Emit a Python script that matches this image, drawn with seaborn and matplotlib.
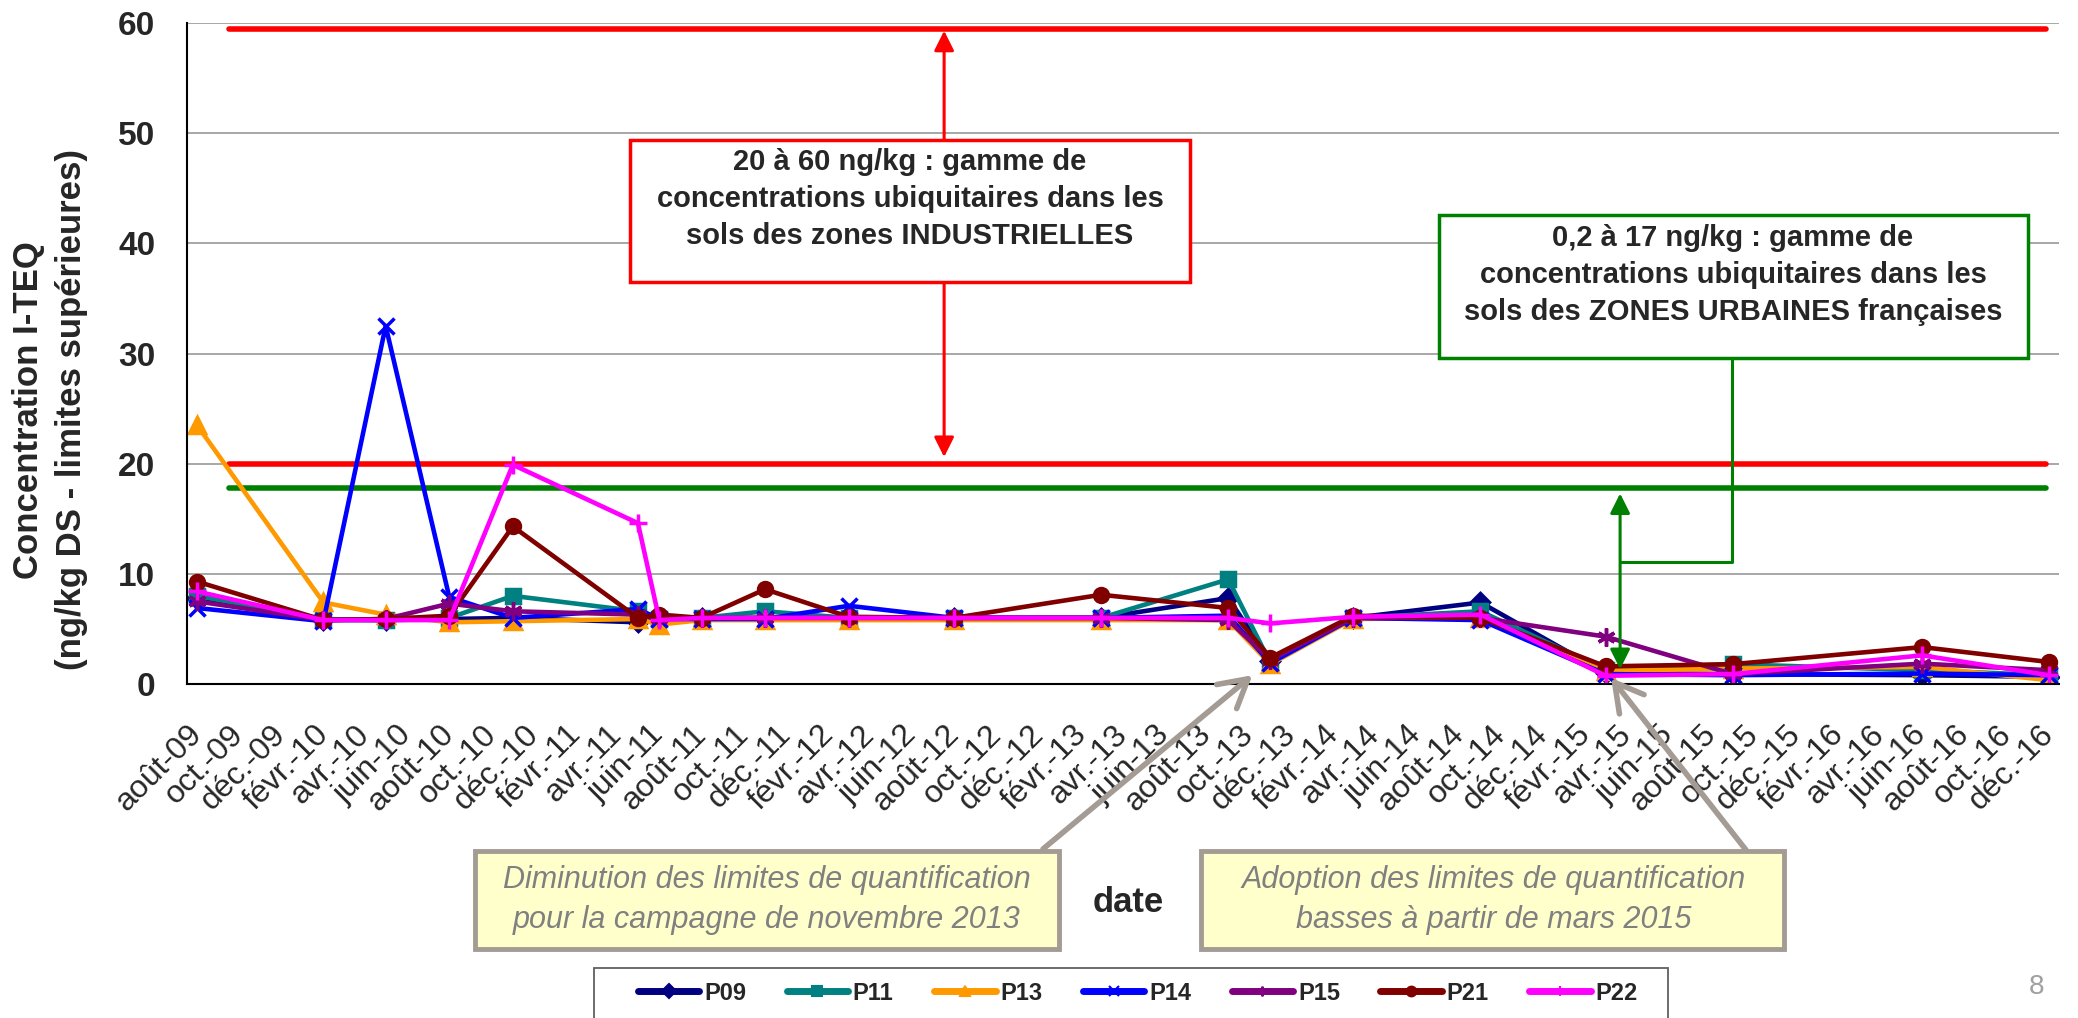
import pandas as pd
import numpy as np
import matplotlib
matplotlib.use("Agg")
import matplotlib.pyplot as plt
import matplotlib.dates as mdates
from matplotlib.patches import Rectangle
from matplotlib.lines import Line2D
import seaborn as sns

# Sampling campaigns and I-TEQ concentrations (ng/kg DS, upper bound)
dates = ["2009-08-16", "2010-02-15", "2010-05-16", "2010-08-16", "2010-11-16",
         "2011-05-16", "2011-06-16", "2011-08-16", "2011-11-16", "2012-03-16",
         "2012-08-15", "2013-03-16", "2013-09-16", "2013-11-16", "2014-03-16",
         "2014-09-16", "2015-03-16", "2015-09-16", "2016-06-16", "2016-12-16"]

p09 = [7.8, 5.8, 5.8, 5.9, 6.0, 5.6, 5.9, 6.0, 6.0, 6.0, 6.0, 6.0, 7.8, 2.1, 6.0, 7.4, 1.0, 0.9, 0.8, 0.65]
p11 = [8.0, 5.9, 5.8, 6.0, 8.0, 6.6, 5.9, 6.0, 6.6, 6.0, 6.0, 6.0, 9.5, 1.9, 6.0, 6.6, 1.3, 1.8, 1.25, 0.8]
p13 = [23.5, 7.4, 6.3, 5.6, 5.7, 5.9, 5.4, 5.8, 5.8, 5.8, 5.8, 5.8, 5.8, 1.8, 5.9, 6.0, 1.2, 1.4, 1.55, 0.35]
p14 = [6.9, 5.7, 32.5, 7.9, 6.0, 6.8, 5.9, 5.9, 5.9, 7.1, 6.0, 6.0, 6.2, 1.9, 6.0, 5.8, 0.9, 0.8, 0.95, 0.8]
p15 = [7.5, 5.8, 5.9, 7.3, 6.6, 6.3, 6.0, 6.0, 6.0, 6.0, 6.0, 6.0, 5.8, 2.2, 6.0, 6.0, 4.3, 0.9, 1.85, 1.25]
p21 = [9.3, 5.8, 5.9, 6.2, 14.3, 6.0, 6.3, 6.0, 8.6, 6.1, 6.0, 8.1, 6.9, 2.4, 6.2, 6.0, 1.6, 1.8, 3.35, 2.0]
p22 = [8.4, 5.8, 5.8, 5.8, 19.9, 14.6, 5.8, 6.0, 6.0, 6.0, 6.0, 6.0, 6.0, 5.5, 6.1, 6.3, 0.75, 0.9, 2.6, 0.8]

stations = ["P09", "P11", "P13", "P14", "P15", "P21", "P22"]
series = [p09, p11, p13, p14, p15, p21, p22]
colors = ["#000080", "#008080", "#FF9900", "#0000FF", "#800080", "#800000", "#FF00FF"]
markers = ["D", "s", "^", "x", (6, 2, 0), "o", "+"]
msizes = [9, 10, 11, 11, 13, 10, 13]

# reference ranges
indus_low, indus_high = 20, 59.5
urban_high = 17.8
ref_start, ref_end = "2009-10-01", "2016-12-12"

month_fr = {2: "févr.", 4: "avr.", 6: "juin", 8: "août", 10: "oct.", 12: "déc."}
tick_dates = pd.date_range("2009-08-01", "2016-12-01", freq="2MS")
tick_labels = [f"{month_fr[d.month]}-{d:%y}" for d in tick_dates]

sns.set_style("white")
plt.rcParams["font.family"] = ["Liberation Sans", "DejaVu Sans"]

W, H = 2078, 1018
fig = plt.figure(figsize=(W / 100, H / 100), dpi=100)
ax = fig.add_axes([186.6 / W, 1 - 684 / H, (2059 - 186.6) / W, (684 - 23) / H])

x = pd.to_datetime(dates)
for name, vals, c, m, ms in zip(stations, series, colors, markers, msizes):
    sns.lineplot(x=x, y=vals, color=c, marker=m, markersize=ms, linewidth=3.3,
                 markeredgecolor=c, markeredgewidth=2.5, ax=ax, label=name, legend=False)

d0, d1 = pd.Timestamp(ref_start), pd.Timestamp(ref_end)
ax.plot([d0, d1], [indus_high, indus_high], color="#FF0000", lw=4, zorder=1)
ax.plot([d0, d1], [indus_low, indus_low], color="#FF0000", lw=4, zorder=1)
ax.plot([d0, d1], [urban_high, urban_high], color="#008000", lw=4, zorder=1)

# double arrows for the ranges
d_red = pd.Timestamp("2012-08-01")
ax.annotate("", xy=(d_red, 59.3), xytext=(d_red, 20.6),
            arrowprops=dict(arrowstyle="<|-|>", color="#FF0000", lw=2.2,
                            mutation_scale=30, shrinkA=0, shrinkB=0))
d_green = pd.Timestamp("2015-04-06")
ax.annotate("", xy=(d_green, 17.3), xytext=(d_green, 1.35),
            arrowprops=dict(arrowstyle="<|-|>", color="#008000", lw=2.2,
                            mutation_scale=30, shrinkA=0, shrinkB=0))
d_conn = pd.Timestamp("2015-09-15")
ax.plot([d_green, d_conn, d_conn], [11.1, 11.1, 31], color="#008000", lw=2.2)

ax.set_xlim(pd.Timestamp("2009-08-01"), pd.Timestamp("2016-12-31"))
ax.set_ylim(0, 60)
ax.set_yticks(range(0, 61, 10))
ax.set_xticks(mdates.date2num(tick_dates))
ax.set_xticklabels(tick_labels, rotation=45, ha="right", va="top",
                   rotation_mode="anchor", fontsize=23)
for lbl in ax.get_yticklabels():
    lbl.set_fontweight("bold")
    lbl.set_fontsize(24)
ax.tick_params(axis="both", direction="out", length=7.5, width=1.2, color="#808080")
ax.tick_params(axis="x", pad=18)
ax.tick_params(axis="y", pad=15)
ax.yaxis.grid(True, color="#A0A0A0", lw=1.3)
ax.xaxis.grid(False)
ax.set_axisbelow(True)
for s in ["top", "right"]:
    ax.spines[s].set_visible(False)
for s in ["left", "bottom"]:
    ax.spines[s].set_color("black")
    ax.spines[s].set_linewidth(1.5)
ax.set_xlabel("")
ax.set_ylabel("")

fig.text(50 / W, 1 - 410 / H, "Concentration I-TEQ\n(ng/kg DS - limites supérieures)",
         rotation=90, ha="center", va="center", fontsize=25, fontweight="bold",
         linespacing=1.35)
fig.text(1128 / W, 1 - 902 / H, "date", ha="center", va="center",
         fontsize=25, fontweight="bold")


def fig_box(x0, y0, x1, y1, face, edge, lw):
    ax.add_patch(Rectangle((x0 / W, 1 - y1 / H), (x1 - x0) / W, (y1 - y0) / H,
                           transform=fig.transFigure, facecolor=face, edgecolor=edge,
                           lw=lw, clip_on=False, zorder=20))


fig_box(630, 140, 1190, 282, "white", "#FF0000", 2.5)
fig.text(910 / W, 1 - 199 / H,
         "20 à 60 ng/kg : gamme de\nconcentrations ubiquitaires dans les\nsols des zones INDUSTRIELLES",
         ha="center", va="center", fontsize=21, fontweight="bold", linespacing=1.41, zorder=25)
fig_box(1439, 215, 2028, 358, "white", "#008000", 2.5)
fig.text(1733 / W, 1 - 275 / H,
         "0,2 à 17 ng/kg : gamme de\nconcentrations ubiquitaires dans les\nsols des ZONES URBAINES françaises",
         ha="center", va="center", fontsize=21, fontweight="bold", linespacing=1.41, zorder=25)

fig_box(475, 851, 1059, 949, "#FFFFCC", "#A39B94", 3.5)
fig.text(767 / W, 1 - 900 / H,
         "Diminution des limites de quantification\npour la campagne de novembre 2013",
         ha="center", va="center", fontsize=22, style="italic", color="#808080",
         linespacing=1.45, zorder=25)
fig_box(1201, 851, 1784, 949, "#FFFFCC", "#A39B94", 3.5)
fig.text(1494 / W, 1 - 900 / H,
         "Adoption des limites de quantification\nbasses à partir de mars 2015",
         ha="center", va="center", fontsize=22, style="italic", color="#808080",
         linespacing=1.45, zorder=25)

gray_arrow = dict(arrowstyle="->,head_length=0.8,head_width=0.45", color="#A39B94",
                  lw=4, mutation_scale=25, shrinkA=0, shrinkB=0)
ax.annotate("", xy=(pd.Timestamp("2013-10-21"), 0.8), xycoords="data",
            xytext=(1043 / W, 1 - 849 / H), textcoords="figure fraction",
            arrowprops=gray_arrow, annotation_clip=False)
ax.annotate("", xy=(pd.Timestamp("2015-03-24"), 0.55), xycoords="data",
            xytext=(1746 / W, 1 - 850 / H), textcoords="figure fraction",
            arrowprops=gray_arrow, annotation_clip=False)

# legend
handles = [Line2D([], [], color=c, marker=m, markersize=7, lw=5, markeredgecolor=c,
                  markeredgewidth=1.5) for c, m in zip(colors, markers)]
fig_box(594, 968, 1668, 1030, "white", "#606060", 1.3)
leg = fig.legend(handles, stations, loc="center left", bbox_to_anchor=(638 / W, 1 - 993 / H),
                 ncol=7, frameon=False, handlelength=2.6, handletextpad=0.2,
                 columnspacing=1.72, borderpad=0, borderaxespad=0,
                 prop=dict(weight="bold", size=17))
leg.set_zorder(30)

fig.text(2037 / W, 1 - 987 / H, "8", ha="center", va="center", fontsize=20, color="#A0A0A0")

fig.savefig("out.png", dpi=100)
